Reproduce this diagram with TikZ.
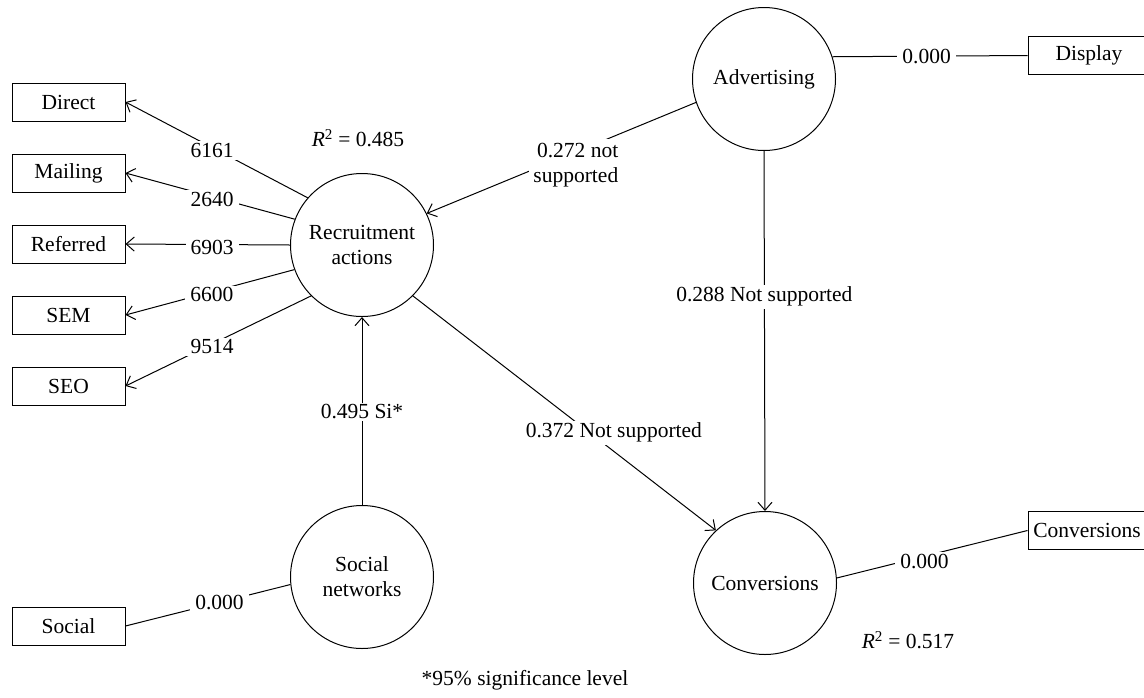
\documentclass[tikz,border=0pt]{standalone}
\usepackage{fontspec}
\setmainfont{Liberation Serif}
\usetikzlibrary{arrows.meta}
\begin{document}
\begin{tikzpicture}[x=1pt,y=-1pt,
  every node/.style={font=\fontsize{21.5}{25}\selectfont},
  latent/.style={draw, circle, minimum size=143pt, inner sep=0pt, line width=1pt, align=center},
  indicator/.style={draw, rectangle, minimum width=113pt, minimum height=38pt, inner sep=0pt, line width=1pt},
  conn/.style={line width=1pt},
  arr/.style={line width=1pt, -{Straight Barb[length=8pt,width=14pt]}},
  lbl/.style={fill=white, inner xsep=5pt, inner ysep=2pt},
  load/.style={lbl, yshift=-3pt},
  plain/.style={inner sep=0pt}
]
\useasboundingbox (0,0) rectangle (1144,697);

% latent variables
\node[latent] (rec)  at (362,245) {Recruitment\\actions};
\node[latent] (adv)  at (764,79)  {Advertising};
\node[latent] (conv) at (765,583) {Conversions};
\node[latent] (soc)  at (362,577) {Social\\networks};

% indicators
\node[indicator] (direct)   at (68.5,102) {Direct};
\node[indicator] (mailing)  at (68.5,173) {Mailing};
\node[indicator] (referred) at (68.5,244) {Referred};
\node[indicator] (sem)      at (68.5,315) {SEM};
\node[indicator] (seo)      at (68.5,386) {SEO};
\node[indicator] (social)   at (68.5,626) {Social};
\node[indicator, minimum width=122pt] (display) at (1089,55.5) {Display};
\node[indicator, minimum width=118pt] (convbox) at (1087,530.5) {Conversions};

% outer loadings of recruitment actions
\draw[arr] (rec.139)   -- node[load,pos=0.525] {6161} (direct.east);
\draw[arr] (rec.159.5) -- node[load,pos=0.488] {2640} (mailing.east);
\draw[arr] (rec.180)   -- node[load,pos=0.474] {6903} (referred.east);
\draw[arr] (rec.200)   -- node[load,pos=0.488] {6600} (sem.east);
\draw[arr] (rec.225)   -- node[load,pos=0.533] {9514} (seo.east);

% other indicators
\draw[conn] (soc.186) -- node[lbl,pos=0.43] {0.000} (social.east);
\draw[conn] (adv.18)  -- node[lbl,pos=0.483] {0.000} (display.west);
\draw[conn] (conv.4)  -- node[lbl,pos=0.46,yshift=-5pt] {0.000} (convbox.west);

% structural paths
\draw[arr] (soc.north) -- node[lbl,pos=0.495] {0.495 Si*} (rec.south);
\draw[arr] (adv.199) -- node[lbl,pos=0.446,yshift=-13pt,align=right,inner sep=4pt] {0.272 not\\supported} (rec.26);
\draw[arr] (adv.south) -- node[lbl,pos=0.405] {0.288 Not supported} (conv.north);
\draw[arr] (rec.-45) -- node[lbl,pos=0.584,xshift=24pt] {0.372 Not supported} (conv.133);

% R squared and note
\node[plain] (r1) at (358,138) {{\itshape R}\textsuperscript{2} = 0.485};
\node[plain] (r2) at (908,640) {{\itshape R}\textsuperscript{2} = 0.517};
\node[plain] (note) at (525,680) {*95\% significance level};
\end{tikzpicture}
\end{document}
